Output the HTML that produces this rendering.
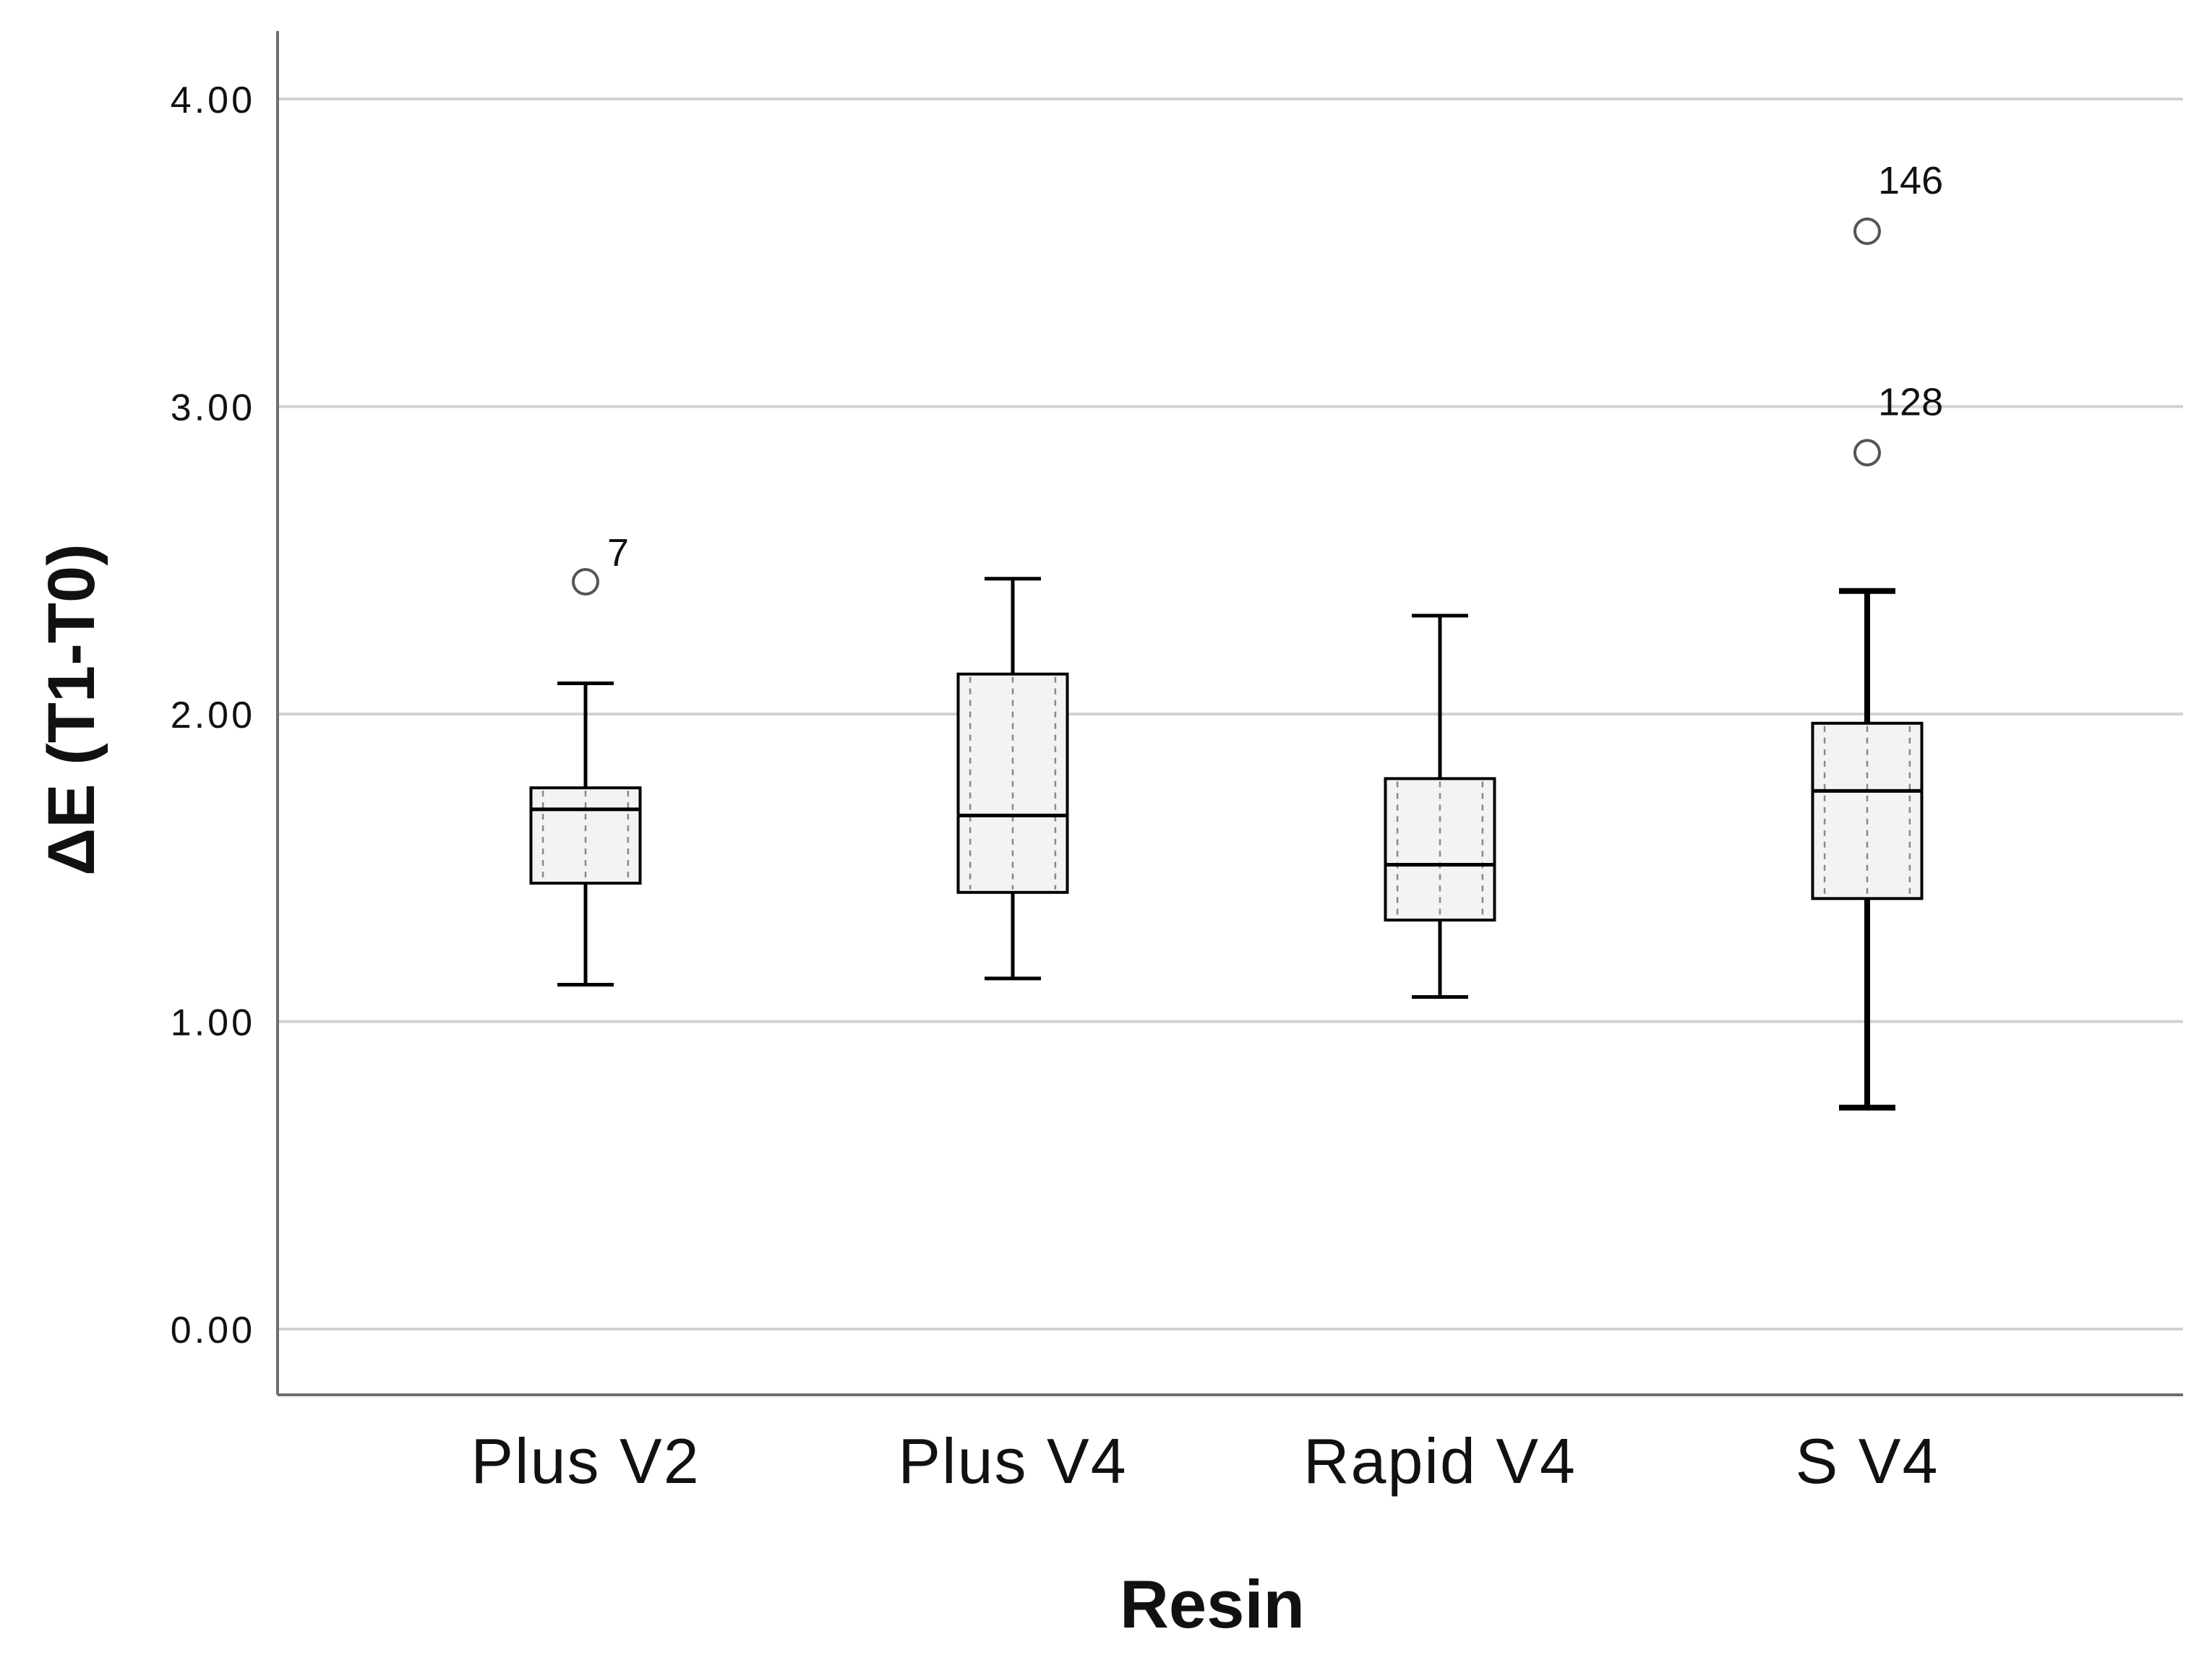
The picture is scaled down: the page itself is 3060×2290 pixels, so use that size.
<!DOCTYPE html>
<html><head><meta charset="utf-8"><style>
html,body{margin:0;padding:0;background:#fff;}
svg{display:block;font-family:"Liberation Sans",Arial,sans-serif;}
</style></head><body>
<svg id="chart" width="3060" height="2290" viewBox="0 0 3060 2290" xmlns="http://www.w3.org/2000/svg">
<g id="grid"></g>
<g id="boxes"></g>
<g id="axes"></g>
</svg>
<script>
const categories = ["Plus V2","Plus V4","Rapid V4","S V4"];
const whiskerLow = [1.12,1.14,1.08,0.72];
const q1 = [1.45,1.42,1.33,1.40];
const medians = [1.69,1.67,1.51,1.75];
const q3 = [1.76,2.13,1.79,1.97];
const whiskerHigh = [2.10,2.44,2.32,2.40];
const outlierCat = [0,3,3];
const outlierVal = [2.43,2.85,3.57];
const outlierLabel = ["7","128","146"];
const yTicks = [0,1,2,3,4];
const yTickLabels = ["0.00","1.00","2.00","3.00","4.00"];

const NS="http://www.w3.org/2000/svg";
const plotL=384, plotR=3020, plotT=43, plotB=1930;
function y(v){return 1839-v*425.5;}
function x(i){return 810+i*591;}
function mk(tag,attrs,parent,text){const e=document.createElementNS(NS,tag);for(const k in attrs)e.setAttribute(k,attrs[k]);if(text!==undefined)e.textContent=text;parent.appendChild(e);return e;}
const grid=document.getElementById('grid'),boxes=document.getElementById('boxes'),axes=document.getElementById('axes');

yTicks.forEach((t,i)=>{
  const l=mk('line',{x1:plotL,x2:plotR,y1:y(t),y2:y(t),stroke:'#d2d2d2','stroke-width':4},grid);
  
  
  const tx=mk('text',{x:353,y:y(t)+19,'text-anchor':'end','font-size':52,fill:'#111','letter-spacing':'4'},axes,yTickLabels[i]);
  
  
});

categories.forEach((c,i)=>{
  const cx=x(i), bw=151, cap=78, sw=(i===3?8:5);
  const g=mk('g',{},boxes);
  
  
  mk('line',{x1:cx,x2:cx,y1:y(whiskerHigh[i]),y2:y(q3[i]),stroke:'#000','stroke-width':sw},g);
  mk('line',{x1:cx,x2:cx,y1:y(q1[i]),y2:y(whiskerLow[i]),stroke:'#000','stroke-width':sw},g);
  mk('line',{x1:cx-cap/2,x2:cx+cap/2,y1:y(whiskerHigh[i]),y2:y(whiskerHigh[i]),stroke:'#000','stroke-width':sw},g);
  mk('line',{x1:cx-cap/2,x2:cx+cap/2,y1:y(whiskerLow[i]),y2:y(whiskerLow[i]),stroke:'#000','stroke-width':sw},g);
  mk('rect',{x:cx-bw/2,y:y(q3[i]),width:bw,height:y(q1[i])-y(q3[i]),fill:'#f3f3f3',stroke:'#000','stroke-width':4},g);
  [-0.3,0,0.3].forEach(f=>{
    mk('line',{x1:cx+f*bw*1.3,x2:cx+f*bw*1.3,y1:y(q3[i])+4,y2:y(q1[i])-4,stroke:'#888','stroke-width':2.5,'stroke-dasharray':'8 8'},g);
  });
  mk('line',{x1:cx-bw/2,x2:cx+bw/2,y1:y(medians[i]),y2:y(medians[i]),stroke:'#000','stroke-width':5},g);
  const t=mk('text',{x:cx,y:2052,'text-anchor':'middle','font-size':88,fill:'#111','letter-spacing':'2'},axes,c);
  
  
});

outlierVal.forEach((v,k)=>{
  const cx=x(outlierCat[k]);
  const c=mk('circle',{cx:cx,cy:y(v),r:17,fill:'none',stroke:'#555','stroke-width':4},boxes);
  
  
  const t=mk('text',{x:cx+(outlierLabel[k].length>1?15:30),y:y(v)-(outlierLabel[k].length>1?52:22),'font-size':54,fill:'#111'},boxes,outlierLabel[k]);
  
  
});

const ya=mk('line',{x1:plotL,x2:plotL,y1:plotT,y2:plotB,stroke:'#6e6e6e','stroke-width':4},axes);


const xa=mk('line',{x1:plotL,x2:plotR,y1:plotB,y2:plotB,stroke:'#6e6e6e','stroke-width':4},axes);


const yt=mk('text',{x:0,y:0,'text-anchor':'middle','font-size':92,'font-weight':'bold',fill:'#111',transform:'translate(130,982) rotate(-90)'},axes,'ΔE (T1-T0)');


const xt=mk('text',{x:1677,y:2252,'text-anchor':'middle','font-size':94,'font-weight':'bold',fill:'#111'},axes,'Resin');


</script>
</body></html>
